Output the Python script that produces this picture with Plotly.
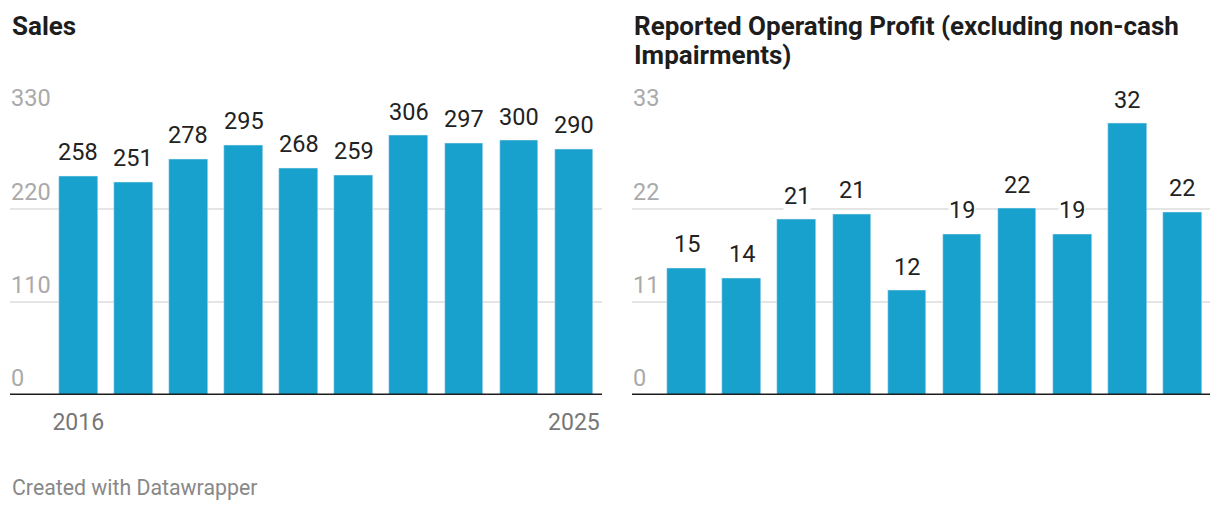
import plotly.graph_objects as go

years = [2016, 2017, 2018, 2019, 2020, 2021, 2022, 2023, 2024, 2025]
sales = [258, 251, 278, 295, 268, 259, 306, 297, 300, 290]
profit = [15.0, 13.8, 20.7, 21.3, 12.3, 19.0, 22.0, 19.0, 32.0, 21.6]
sales_ticks = [0, 110, 220, 330]
profit_ticks = [0, 11, 22, 33]
x_ticks = [2016, 2025]
title_left = "Sales"
title_right = ["Reported Operating Profit (excluding non-cash", "Impairments)"]
footer = "Created with Datawrapper"

W, H = 1220, 514
BLUE = "#18a1cd"
FONT = "Roboto"

fig = go.Figure()
fig.add_trace(go.Bar(x=years, y=sales, marker_color=BLUE, width=0.7,
                     xaxis="x", yaxis="y", hoverinfo="skip"))
fig.add_trace(go.Bar(x=years, y=profit, marker_color=BLUE, width=0.7,
                     xaxis="x2", yaxis="y2", hoverinfo="skip"))

ydom = [119 / H, (H - 115.3) / H]
ann = []
shapes = []

# value labels
for xs, ys, xr, yr in [(years, sales, "x", "y"), (years, profit, "x2", "y2")]:
    for xv, yv in zip(xs, ys):
        ann.append(dict(x=xv, y=yv, xref=xr, yref=yr, text=f"{yv:.0f}",
                        showarrow=False, yanchor="bottom", yshift=9,
                        bgcolor="white", borderpad=0,
                        font=dict(family=FONT, size=23.5, color="#222222")))

# y tick labels
for ticks, xr, yr in [(sales_ticks, "x domain", "y"), (profit_ticks, "x2 domain", "y2")]:
    for t in ticks:
        ann.append(dict(x=0, y=t, xref=xr, yref=yr, text=str(t), showarrow=False,
                        xanchor="left", yanchor="bottom", yshift=2, borderpad=0,
                        font=dict(family=FONT, size=23.5, color="#aaaaaa")))

# baselines
for xr, yr in [("x domain", "y"), ("x2 domain", "y2")]:
    shapes.append(dict(type="line", xref=xr, yref=yr, x0=0, x1=1, y0=0, y1=0,
                       line=dict(color="#1d1d1d", width=3)))

# titles
ann.append(dict(x=10 / W, y=1 - 9 / H, xref="paper", yref="paper", text=f"<b>{title_left}</b>",
                showarrow=False, xanchor="left", yanchor="top",
                font=dict(family=FONT, size=26, color="#1d1d1d")))
for i, line in enumerate(title_right):
    ann.append(dict(x=632 / W, y=1 - (9 + 29.5 * i) / H, xref="paper", yref="paper",
                    text=f"<b>{line}</b>", showarrow=False, xanchor="left", yanchor="top",
                    font=dict(family=FONT, size=26, color="#1d1d1d")))
ann.append(dict(x=10 / W, y=1 - 473 / H, xref="paper", yref="paper", text=footer,
                showarrow=False, xanchor="left", yanchor="top",
                font=dict(family=FONT, size=21.3, color="#888888")))

grid = dict(showgrid=True, gridcolor="#e5e5e5", gridwidth=1.5, zeroline=False,
            showticklabels=False, ticks="", domain=ydom, fixedrange=True)

fig.update_layout(
    width=W, height=H, autosize=False,
    margin=dict(l=0, r=0, t=0, b=0),
    paper_bgcolor="white", plot_bgcolor="white",
    showlegend=False, bargap=0,
    xaxis=dict(domain=[10 / W, 602 / W], range=[years[0] - 1.24, years[-1] + 0.51],
               tickvals=x_ticks, ticktext=[str(v) for v in x_ticks],
               showgrid=False, zeroline=False, showline=False,
               ticks="outside", ticklen=6, tickcolor="rgba(0,0,0,0)",
               tickfont=dict(family=FONT, size=23, color="#777777"), anchor="y"),
    yaxis=dict(range=[0, sales_ticks[-1]], tickvals=sales_ticks[1:], anchor="x", **grid),
    xaxis2=dict(domain=[632 / W, 1210 / W], range=[years[0] - 0.99, years[-1] + 0.5],
                showticklabels=False, showgrid=False, zeroline=False, ticks="", anchor="y2"),
    yaxis2=dict(range=[0, profit_ticks[-1]], tickvals=profit_ticks[1:], anchor="x2", **grid),
    annotations=ann, shapes=shapes,
)

fig.write_html("out.html", config={"displayModeBar": False},
               post_script="document.body.style.margin='0';document.body.style.overflow='hidden';")
